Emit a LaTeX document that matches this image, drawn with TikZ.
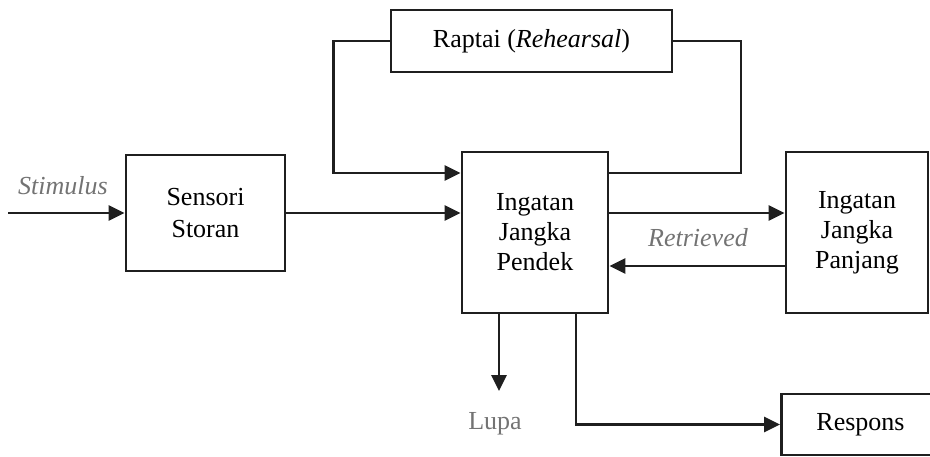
\documentclass[tikz,border=0pt]{standalone}
\usepackage{fontspec}
\setmainfont{Liberation Serif}
\usetikzlibrary{arrows.meta}
\tikzset{box/.style = {draw, line width=1.4pt, inner sep=0pt, align=center,
                       font=\fontsize{13}{15}\selectfont},
         lbl/.style = {text=black!55, inner sep=0pt, font=\fontsize{13}{15}\selectfont}}

\begin{document}
\begin{tikzpicture}[x=0.5pt, y=-0.5pt, line width=1.4pt, draw=black!88,
    >={Triangle[length=8pt, width=7.5pt]}]
    \useasboundingbox (0,0) rectangle (930,456);
    \node[box, minimum width=140.5pt, minimum height=31pt] (raptai) at (531.5,41) {Raptai (\textit{Rehearsal})};
    \node[box, minimum width=79.5pt, minimum height=58pt, font=\fontsize{13}{16}\selectfont] (sensori) at (205.5,213) {Sensori\\Storan};
    \node[box, minimum width=73pt, minimum height=80.5pt] (pendek) at (535,232.5) {Ingatan\\Jangka\\Pendek};
    \node[box, minimum width=71pt, minimum height=80.5pt] (panjang) at (857,232.5) {Ingatan\\Jangka\\Panjang};
    \node[box, minimum width=79pt, minimum height=30.5pt] (respons) at (860.5,424.5) {Respons};
    \node[lbl] (stimulus) at (63,186) {\textit{Stimulus}};
    \node[lbl] (retrieved) at (698,238) {\textit{Retrieved}};
    \node[lbl] (lupa) at (495,424) {Lupa};
    \coordinate (in) at (8,213);
    \coordinate (lupatip) at (499,391);
    \draw[->] (in) -- (sensori.west);
    \draw[->] (sensori.east) -- (sensori.east -| pendek.west);
    \draw[->] (raptai.west) -- ++(-56,0) |- (pendek.west |- 0,173);
    \draw (pendek.east |- 0,173) -| (741,0 |- raptai.east) -- (raptai.east);
    \draw[->] (pendek.east |- 0,213) -- (panjang.west |- 0,213);
    \draw[->] (panjang.west |- 0,266) -- (pendek.east |- 0,266);
    \draw[->] (pendek.south -| lupatip) -- (lupatip);
    \draw[->] (pendek.south -| 576,0) |- (respons.west);
\end{tikzpicture}
\end{document}
